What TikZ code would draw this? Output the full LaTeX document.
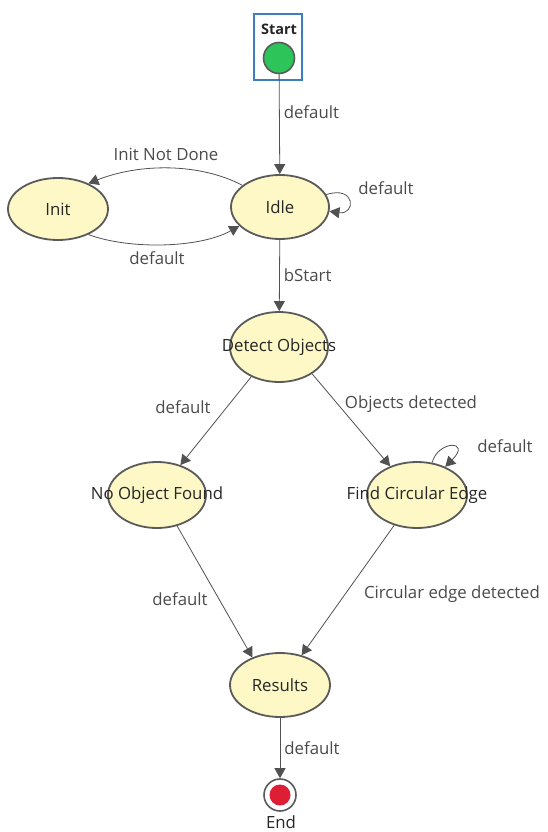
\documentclass[tikz,border=0pt]{standalone}
\usepackage{fontspec}
\setmainfont{Open Sans}
\usetikzlibrary{arrows.meta,shapes.geometric}
\definecolor{stfill}{HTML}{FDF8C6}
\definecolor{stdraw}{HTML}{5A5A5A}
\definecolor{lbl}{HTML}{4A4A4A}
\definecolor{startgreen}{HTML}{2DC45A}
\definecolor{endred}{HTML}{DD1E35}
\definecolor{boxblue}{HTML}{3A7FC0}
\tikzset{
  state/.style={ellipse, draw=stdraw, line width=1.8pt, fill=stfill, minimum width=#1, minimum height=64pt, inner sep=0pt},
  state/.default=98pt,
  stext/.style={text=black!85, font=\fontsize{16.8}{19}\selectfont, inner sep=0pt},
  trans/.style={draw=stdraw!90!black, line width=0.8pt, -{Triangle[length=10pt,width=11pt]}},
  tlabel/.style={text=lbl, font=\fontsize{16.8}{19}\selectfont, inner sep=1pt},
}
\begin{document}
\begin{tikzpicture}[x=1pt,y=-1pt]
\useasboundingbox (0,0) rectangle (548,832);
% start
\node[draw=boxblue, line width=1.6pt, minimum width=48pt, minimum height=66pt, inner sep=0pt] (sbox) at (278,47) {};
\node[font=\bfseries\fontsize{14.5}{16}\selectfont, text=black!85] (stxt) at (279,29) {Start};
\node[circle, draw=stdraw, line width=1.6pt, fill=startgreen, minimum size=31pt, inner sep=0pt] (start) at (279,58) {};
% states
\node[state] (idle) at (280,207) {};
\node[stext] at (idle) {Idle};
\node[state=100pt, minimum height=62pt] (init) at (58,209) {};
\node[stext] at (init) {Init};
\node[state, minimum height=70pt] (detect) at (279,347) {};
\node[stext] at (detect) {Detect Objects};
\node[state, minimum height=66pt] (noobj) at (157,495) {};
\node[stext] at (noobj) {No Object Found};
\node[state=100pt, minimum height=66pt] (find) at (417,495) {};
\node[stext] at (find) {Find Circular Edge};
\node[state=100pt] (results) at (280,685) {};
\node[stext] at (results) {Results};
% end
\node[circle, draw=stdraw, line width=1.6pt, fill=white, minimum size=32pt, inner sep=0pt] (end) at (280,795) {};
\node[circle, fill=endred, minimum size=21pt, inner sep=0pt] (endin) at (280,795) {};
\node[stext] (etxt) at (281,822) {End};
% transitions
\draw[trans] (start) -- (idle) node[tlabel, pos=0.38, right=3pt] {default};
\draw[trans] (idle.15) .. controls (356,185) and (356,215) .. (idle.-5);
\node[tlabel] (lidle) at (386,188) {default};
\draw[trans] (idle.150) .. controls (200,163) and (140,163) .. (init.40);
\node[tlabel] (linit1) at (166,154) {Init Not Done};
\draw[trans] (init.-40) .. controls (130,250) and (200,248) .. (idle.205);
\node[tlabel] (linit2) at (157,258) {default};
\draw[trans] (idle) -- (detect) node[tlabel, midway, right=3pt] {bStart};
\draw[trans] (detect.-133) -- (noobj.52);
\node[tlabel] (lno) at (183,407) {default};
\draw[trans] (detect.-39) -- (find.133);
\node[tlabel] (lfind) at (411,404) {Objects detected};
\draw[trans] (find.65) .. controls (438,440) and (472,440) .. (find.45);
\node[tlabel] (lfl) at (505,446) {default};
\draw[trans] (noobj.-57) -- (results.135);
\node[tlabel] (lnr) at (180,599) {default};
\draw[trans] (find.-127) -- (results.54);
\node[tlabel] (lfr) at (452,594) {Circular edge detected};
\draw[trans] (results) -- (end) node[tlabel, midway, right=3pt] {default};
\end{tikzpicture}
\end{document}
